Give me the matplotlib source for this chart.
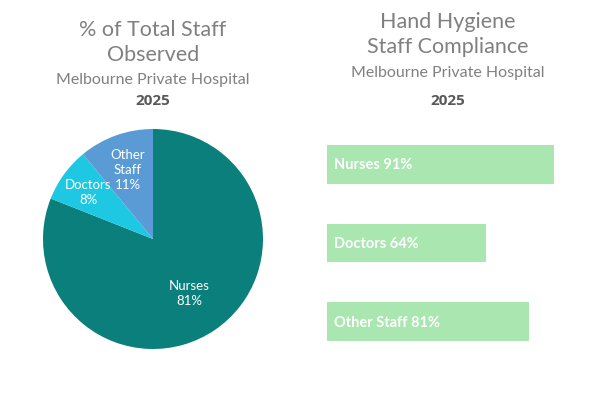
import numpy as np
import matplotlib.pyplot as plt

# Pie data: share of staff observed
pie_labels = ["Nurses", "Doctors", "Other\nStaff"]
pie_values = [81, 8, 11]
pie_colors = ["#0b7f7b", "#1fc8e2", "#5b9bd5"]

# Bar data: compliance per staff group
bar_labels = ["Nurses", "Doctors", "Other Staff"]
bar_values = [91, 64, 81]
bar_color = "#a9e6b0"

title_color = "#808080"
year_color = "#595959"
title_font = "Lato"

fig = plt.figure(figsize=(6.04, 4.02), dpi=100)
fig.patch.set_facecolor("white")

# Titles
fig.text(153/604, 1 - 30/402, "% of Total Staff", ha="center", va="center",
         fontsize=15.5, color=title_color, family=title_font)
fig.text(153/604, 1 - 55/402, "Observed", ha="center", va="center",
         fontsize=15.5, color=title_color, family=title_font)
fig.text(153/604, 1 - 80/402, "Melbourne Private Hospital", ha="center", va="center",
         fontsize=11.5, color=title_color, family=title_font)
fig.text(153/604, 1 - 101/402, "2025", ha="center", va="center",
         fontsize=11, color=year_color, weight="bold", family="Open Sans")

fig.text(448/604, 1 - 22/402, "Hand Hygiene", ha="center", va="center",
         fontsize=15.5, color=title_color, family=title_font)
fig.text(448/604, 1 - 47/402, "Staff Compliance", ha="center", va="center",
         fontsize=15.5, color=title_color, family=title_font)
fig.text(448/604, 1 - 73/402, "Melbourne Private Hospital", ha="center", va="center",
         fontsize=11.5, color=title_color, family=title_font)
fig.text(448/604, 1 - 101/402, "2025", ha="center", va="center",
         fontsize=11, color=year_color, weight="bold", family="Open Sans")

# Pie chart
ax1 = fig.add_axes([43/604, 52/402, 220/604, 220/402])
wedges, _ = ax1.pie(pie_values, colors=pie_colors, startangle=90, counterclock=False,
                    radius=1.0, wedgeprops=dict(linewidth=0))
ax1.set_xlim(-1, 1)
ax1.set_ylim(-1, 1)
ax1.set_aspect("equal")
label_dist = [0.59, 0.73, 0.68]
total = sum(pie_values)
for w, lab, v, d in zip(wedges, pie_labels, pie_values, label_dist):
    ang = np.deg2rad((w.theta1 + w.theta2) / 2)
    ax1.text(d * np.cos(ang), d * np.sin(ang), f"{lab}\n{round(100 * v / total)}%",
             ha="center", va="center", color="white", fontsize=9.5, family="Lato",
             linespacing=1.3)

# Bar chart
ax2 = fig.add_axes([327/604, 40/402, 249/604, 236/402])
y = np.arange(len(bar_values))
ax2.barh(y, bar_values, height=0.49, color=bar_color)
ax2.set_xlim(0, 100)
ax2.set_ylim(2.5, -0.5)
for yi, lab, v in zip(y, bar_labels, bar_values):
    ax2.text(3, yi, f"{lab} {v}%", ha="left", va="center", color="white",
             fontsize=10.5, weight="bold", family="Lato")
ax2.axis("off")

fig.savefig("out.png", dpi=100)
